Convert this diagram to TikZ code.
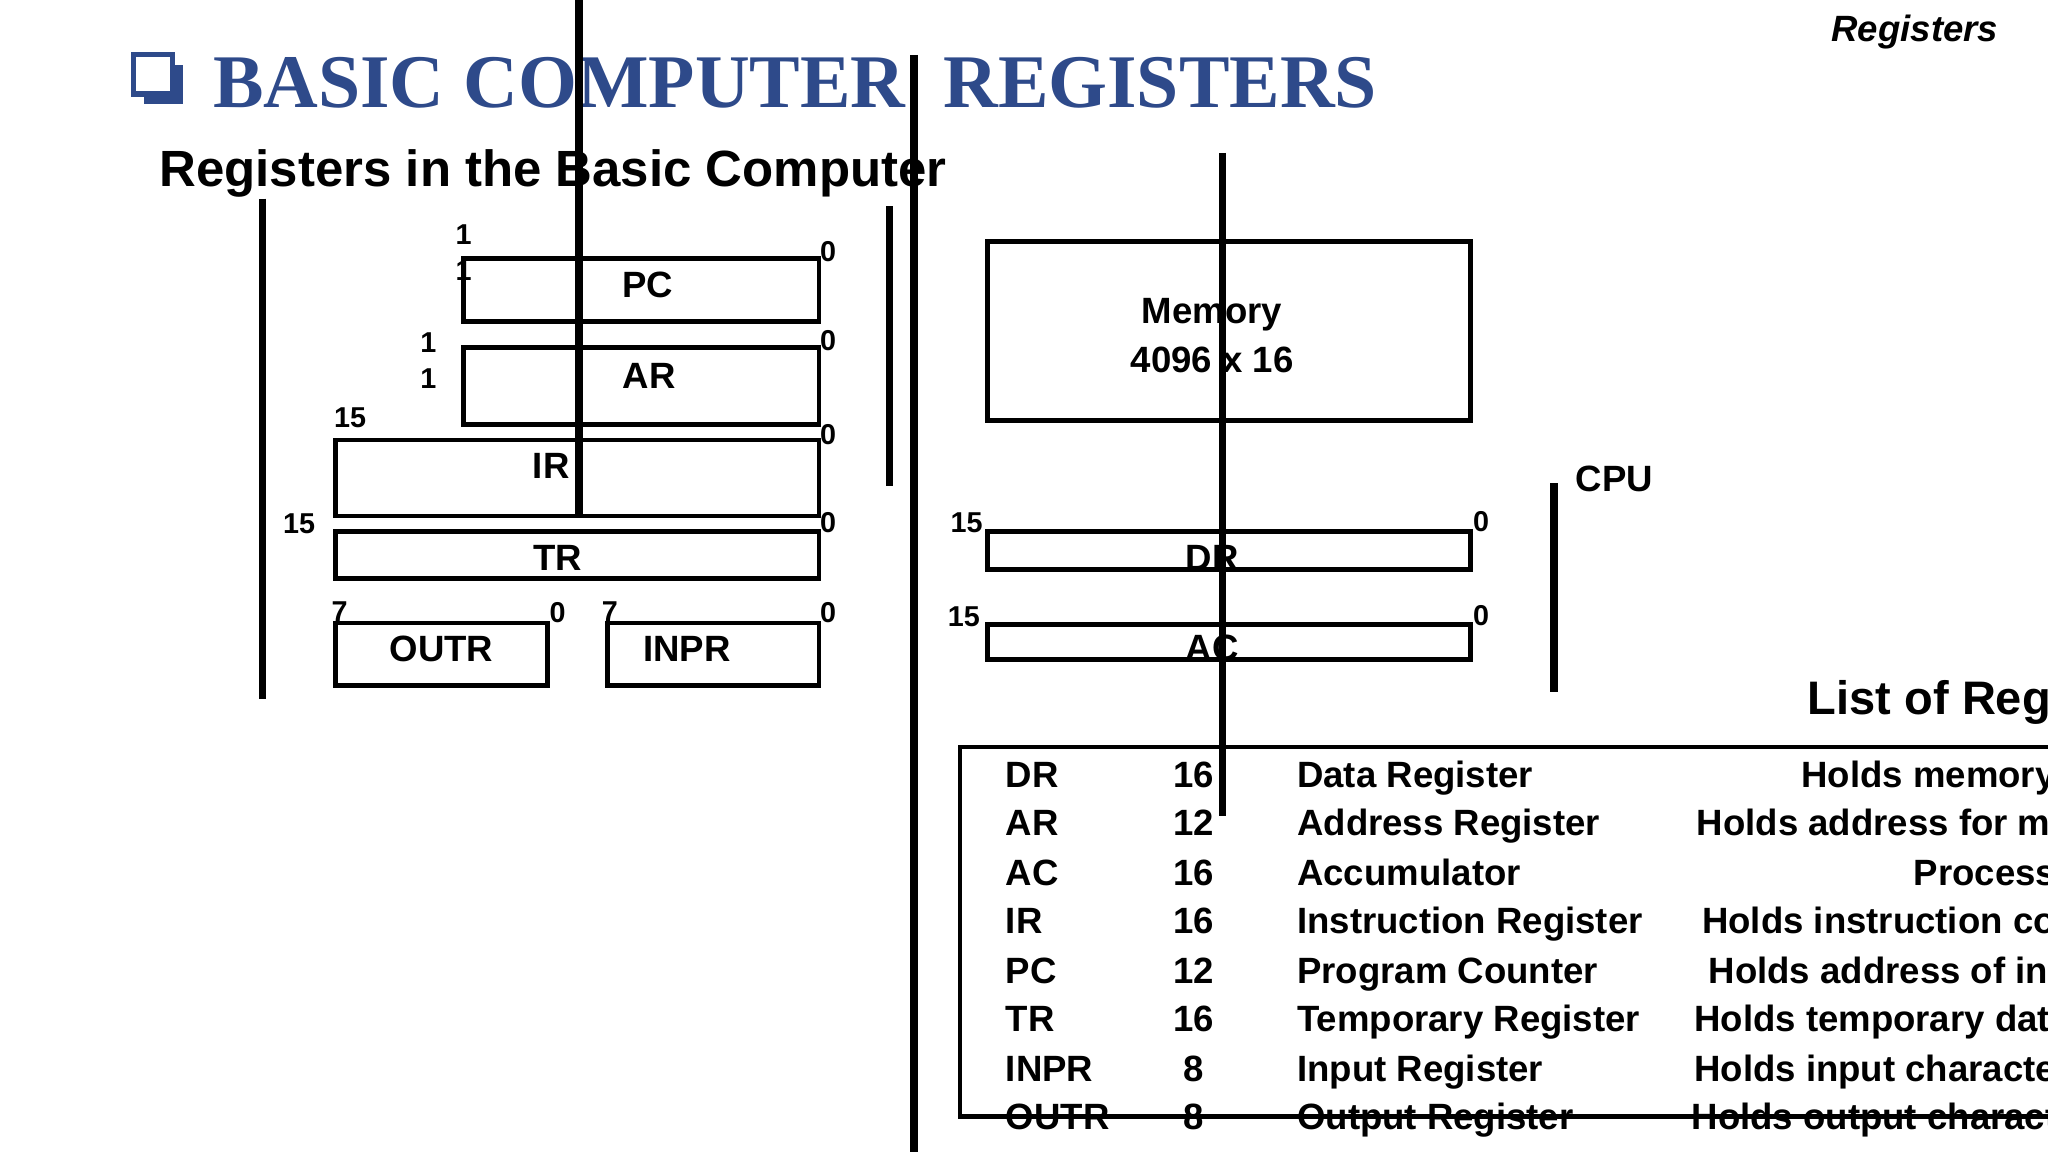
\documentclass[tikz,border=0pt]{standalone}
\usepackage{fontspec}
\setmainfont{Liberation Sans}
\newfontfamily\tnr{Liberation Serif}
\begin{document}
\begin{tikzpicture}[x=1pt,y=-1pt,
 reg/.style={draw,line width=3.5pt},
 lab/.style={font=\bfseries\fontsize{28}{30}\selectfont,inner sep=0},
 num/.style={font=\bfseries\fontsize{22}{24}\selectfont,inner sep=0},
 tt/.style={font=\bfseries\fontsize{28}{30}\selectfont,inner sep=0,anchor=base west},
 bar/.style={line width=6pt}]
\useasboundingbox (0,0) rectangle (1568,882);
\definecolor{tblue}{HTML}{2E4A8A}
% title
\draw[tblue,line width=4pt] (102,42) rectangle (132,72);
\fill[tblue] (110,72) rectangle (140,80); \fill[tblue] (132,50) rectangle (140,80);
\node[anchor=base west,inner sep=0,text=tblue,font=\tnr\bfseries\fontsize{58}{60}\selectfont] (title) at (163,82) {BASIC COMPUTER\ \ REGISTERS};
\node[anchor=base east,inner sep=0,font=\bfseries\itshape\fontsize{28}{30}\selectfont] (hdr) at (1530,32) {Registers};
\node[anchor=base west,inner sep=0,font=\bfseries\fontsize{39}{41}\selectfont] (sub) at (122,143) {Registers in the Basic Computer};
% registers
\node[reg,minimum width=272,minimum height=48] (pc) at (491,222) {}; \node[lab] (pcl) at (496,218) {PC};
\node[reg,minimum width=272,minimum height=59] (ar) at (491,295.5) {}; \node[lab] (arl) at (497,288) {AR};
\node[reg,minimum width=370,minimum height=58] (ir) at (442,366) {}; \node[lab] (irl) at (422,357) {IR};
\node[reg,minimum width=370,minimum height=36] (tr) at (442,425) {}; \node[lab] (trl) at (427,427) {TR};
\node[reg,minimum width=162,minimum height=48] (outr) at (338,501) {}; \node[lab] (outrl) at (338,497) {OUTR};
\node[reg,minimum width=162,minimum height=48] (inpr) at (546,501) {}; \node[lab] (inprl) at (526,497) {INPR};
\node[num] (n1) at (355,180) {1}; \node[num] (n2) at (355,207) {1}; \node[num] (n3) at (634,193) {0};
\node[num] (n4) at (328,262) {1}; \node[num] (n5) at (328,290) {1}; \node[num] (n6) at (634,261) {0};
\node[num] (n7) at (268,320) {15}; \node[num] (n8) at (634,333) {0};
\node[num] (n9) at (229,401) {15}; \node[num] (n10) at (634,400) {0};
\node[num] (n11) at (260,468) {7}; \node[num] (n12) at (427,469) {0};
\node[num] (n13) at (467,468) {7}; \node[num] (n14) at (634,469) {0};
% memory / cpu
\node[reg,minimum width=370,minimum height=137] (mem) at (941,253.5) {};
\node[lab,align=center] (meml) at (928,257) {Memory\\[8pt]4096 x 16};
\node[lab] (cpu) at (1236,367) {CPU};
\node[reg,minimum width=370,minimum height=29] (dr) at (941,421.5) {}; \node[lab] (drl) at (928,427) {DR};
\node[reg,minimum width=370,minimum height=27] (ac) at (941,491.5) {}; \node[lab] (acl) at (928,496) {AC};
\node[num] (n15) at (740,400) {15}; \node[num] (n16) at (1134,399) {0};
\node[num] (n17) at (738,472) {15}; \node[num] (n18) at (1134,471) {0};
% list
\node[anchor=base west,inner sep=0,font=\bfseries\fontsize{36}{38}\selectfont] (lst) at (1384,547) {List of Registers};
\draw[line width=3.5pt] (1600,572) -- (735,572) -- (735,855) -- (1600,855);
\foreach \i/\y/\a/\b/\c/\px/\d in {1/593/DR/16/Data Register/1379/Holds memory operand,
 2/630/AR/12/Address Register/1299/Holds address for memory,
 3/668/AC/16/Accumulator/1465/Processor register,
 4/705/IR/16/Instruction Register/1303/Holds instruction code,
 5/743/PC/12/Program Counter/1308/Holds address of instruction,
 6/780/TR/16/Temporary Register/1297/Holds temporary data,
 7/818/INPR/8/Input Register/1297/Holds input character,
 8/855/OUTR/8/Output Register/1295/Holds output character}{
 \node[tt] (ta\i) at (770,\y+10) {\a};
 \node[tt,anchor=base] (tb\i) at (914,\y+10) {\b};
 \node[tt] (tc\i) at (993,\y+10) {\c};
 \node[tt] (td\i) at (\px,\y+10) {\d};
}
% vertical bars
\draw[bar] (443,0) -- (443,395);
\draw[bar] (700,42) -- (700,882);
\draw[bar] (201,152) -- (201,535);
\draw[bar] (681,158) -- (681,372);
\draw[bar] (936,117) -- (936,625);
\draw[bar] (1190,370) -- (1190,530);
\end{tikzpicture}
\end{document}
